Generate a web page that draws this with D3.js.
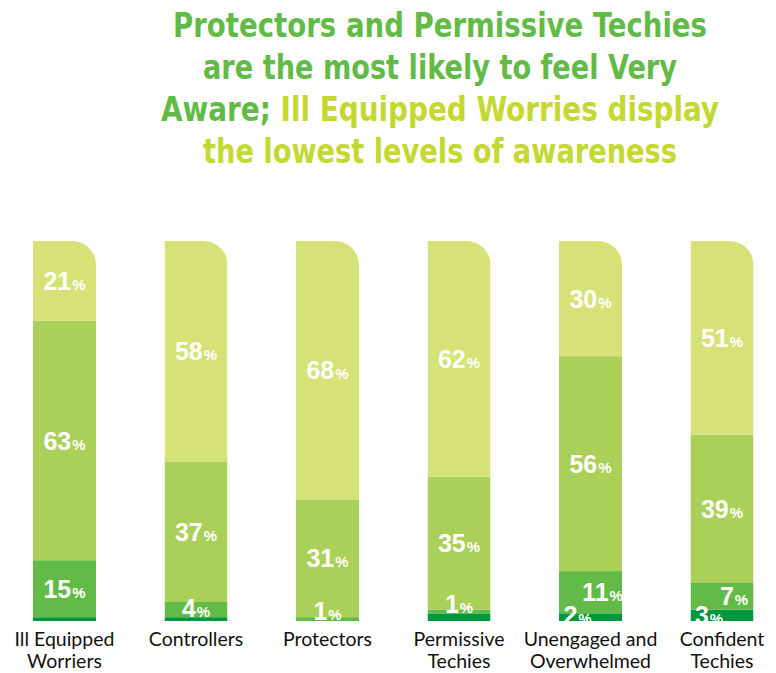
<!DOCTYPE html>
<html><head><meta charset="utf-8">
<script src="https://cdn.jsdelivr.net/npm/d3@7"></script>
<style>
html,body{margin:0;padding:0;background:#fff;}
svg{display:block;}
</style>
</head><body>
<script>
// ---- data ----
const categories = ["Ill Equipped Worriers","Controllers","Protectors","Permissive Techies","Unengaged and Overwhelmed","Confident Techies"];
const categoryLines = [["Ill Equipped","Worriers"],["Controllers"],["Protectors"],["Permissive","Techies"],["Unengaged and","Overwhelmed"],["Confident","Techies"]];
const veryAware     = [21,58,68,62,30,51];
const fairlyAware   = [63,37,31,35,56,39];
const notVeryAware  = [15,4,1,1,11,7];
const notAtAllAware = [1,1,0,2,2,3];
const showNotAtAllLabel = [false,false,false,false,true,true];
const seriesKeys = ["notAtAll","notVery","fairly","very"];
const seriesColors = ["#00973f","#62bb47","#abd05a","#d4e277"];
const titleLines = [
  [{t:"Protectors and Permissive Techies",c:"g"}],
  [{t:"are the most likely to feel Very",c:"g"}],
  [{t:"Aware; ",c:"g"},{t:"Ill Equipped Worries display",c:"y"}],
  [{t:"the lowest levels of awareness",c:"y"}]
];
const titleWidths = [534,474,558,474];

const W=776,H=673;
const svg=d3.select("body").append("svg").attr("width",W).attr("height",H);

const rows = categories.map((c,i)=>({cat:c,i,notAtAll:notAtAllAware[i],notVery:notVeryAware[i],fairly:fairlyAware[i],very:veryAware[i]}));
const stacked = d3.stack().keys(seriesKeys).offset(d3.stackOffsetExpand)(rows);

const x = d3.scalePoint().domain(categories).range([64.5,722]);
const bw = 63;
const y = d3.scaleLinear().domain([0,1]).range([621,241]);
const color = d3.scaleOrdinal().domain(seriesKeys).range(seriesColors);
const R = 24;

// title
const titleColor={g:"#62bb46",y:"#c3d830"};
const tt = svg.append("g");
titleLines.forEach((line,li)=>{
  const t = tt.append("text").attr("x",440).attr("y",37+li*42)
    .attr("text-anchor","middle")
    .attr("font-family","'DejaVu Sans Condensed','Liberation Sans Narrow',sans-serif")
    .attr("font-weight","bold").attr("font-size",34)
    .attr("textLength",titleWidths[li]).attr("lengthAdjust","spacingAndGlyphs");
  line.forEach(s=>t.append("tspan").attr("fill",titleColor[s.c]).text(s.t));
});

// clip paths per bar (top-right rounded)
const defs = svg.append("defs");
categories.forEach((c,i)=>{
  const x0=x(c)-bw/2, x1=x(c)+bw/2, y0=y(1), y1=y(0);
  defs.append("clipPath").attr("id","clip"+i).append("path")
    .attr("d",`M${x0},${y1}L${x0},${y0}L${x1-R},${y0}A${R},${R} 0 0 1 ${x1},${y0+R}L${x1},${y1}Z`);
});

const bars = svg.append("g").selectAll("g.bar").data(rows).join("g")
  .attr("class","bar").attr("clip-path",d=>`url(#clip${d.i})`);

bars.each(function(d){
  const g=d3.select(this);
  stacked.forEach(s=>{
    const v=s[d.i];
    if(v[1]-v[0]<=0) return;
    g.append("rect").attr("x",x(d.cat)-bw/2).attr("width",bw)
      .attr("y",y(v[1])).attr("height",y(v[0])-y(v[1]))
      .attr("fill",color(s.key));
  });
  // labels
  stacked.forEach(s=>{
    const v=s[d.i]; const val=d[s.key];
    if(val<=0) return;
    if(s.key==="notAtAll" && !showNotAtAllLabel[d.i]) return;
    let dx=0;
    if(showNotAtAllLabel[d.i]){ dx = s.key==="notAtAll" ? -13 : (s.key==="notVery" ? 12 : 0); }
    let by = (y(v[0])+y(v[1]))/2 + 9;
    by = Math.min(by, y(v[0]), 620);
    if(s.key==="notVery" && showNotAtAllLabel[d.i]) by = Math.min((y(v[0])+y(v[1]))/2 + 9, y(v[0])-4);
    if(s.key==="notAtAll") by = 624;
    const t=g.append("text").attr("x",x(d.cat)+dx).attr("y",by)
      .attr("text-anchor","middle").attr("fill","#fff")
      .attr("font-family","'Liberation Sans',Arial,sans-serif").attr("font-weight","bold");
    t.append("tspan").attr("font-size",25).text(val);
    t.append("tspan").attr("font-size",15).attr("dx",1).text("%");
  });
});

// category labels
const lab = svg.append("g");
categories.forEach((c,i)=>{
  const t=lab.append("text").attr("text-anchor","middle")
    .attr("font-family","Lato,'Open Sans',sans-serif").attr("font-size",19.5).attr("fill","#111");
  categoryLines[i].forEach((ln,k)=>{
    t.append("tspan").attr("x",x(c)).attr("y",646+k*22).text(ln);
  });
});
</script>
</body></html>
